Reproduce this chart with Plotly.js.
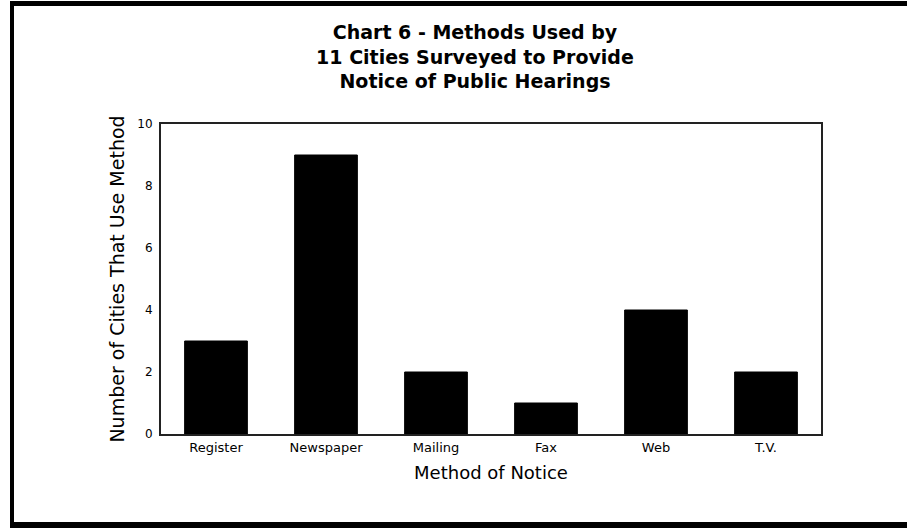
<!DOCTYPE html>
<html>
<head>
<meta charset="utf-8">
<script src="https://cdn.plot.ly/plotly-3.0.1.min.js"></script>
<style>
  html, body { margin: 0; padding: 0; background: #fff; overflow: hidden; }
  #chart { width: 907px; height: 528px; position: relative; }
  #frame {
    position: absolute; left: 10px; top: 1px; width: 1000px; height: 527px;
    box-sizing: border-box; border-left: 4px solid #000; border-top: 5px solid #000;
    border-bottom: 6px solid #000; pointer-events: none;
  }
</style>
</head>
<body>
<div id="chart"></div>
<div id="frame"></div>
<script>
const categories = ["Register", "Newspaper", "Mailing", "Fax", "Web", "T.V."];
const citiesUsingMethod = [3, 9, 2, 1, 4, 2];
const yTickValues = [0, 2, 4, 6, 8, 10];

const titleLines = [
  "Chart 6 - Methods Used by",
  "11 Cities Surveyed to Provide",
  "Notice of Public Hearings"
];

const trace = {
  type: "bar",
  x: categories,
  y: citiesUsingMethod,
  marker: { color: "#000000", line: { color: "#000000", width: 1 } },
  hoverinfo: "x+y"
};

const layout = {
  width: 907,
  height: 528,
  margin: { l: 161, r: 86, t: 124, b: 94 },
  paper_bgcolor: "#ffffff",
  plot_bgcolor: "#ffffff",
  showlegend: false,
  bargap: 0.43,
  font: { family: "DejaVu Sans, Arial, sans-serif", color: "#000" },
  title: {
    text: titleLines.join("<br>"),
    font: { family: "DejaVu Sans, Arial, sans-serif", size: 19, weight: "bold", color: "#000" },
    x: 0.5237, xanchor: "center", xref: "container",
    y: 1 - 39 / 528, yanchor: "top", yref: "container"
  },
  xaxis: {
    type: "category",
    title: { text: "Method of Notice", font: { size: 18 }, standoff: 13 },
    tickfont: { size: 13 },
    ticks: "",
    showgrid: false,
    zeroline: false,
    showline: true, mirror: true, linecolor: "#222", linewidth: 2,
    automargin: false,
    fixedrange: true
  },
  yaxis: {
    range: [0, 10],
    tickvals: yTickValues,
    ticktext: yTickValues.map(String),
    title: { text: "Number of Cities That Use Method", font: { size: 19 }, standoff: 8 },
    tickfont: { size: 12 },
    ticks: "",
    ticklabelstandoff: 4,
    showgrid: false,
    zeroline: false,
    showline: true, mirror: true, linecolor: "#222", linewidth: 2,
    automargin: false,
    fixedrange: true
  }
};

Plotly.newPlot("chart", [trace], layout, { displayModeBar: false, staticPlot: true });
</script>
</body>
</html>
